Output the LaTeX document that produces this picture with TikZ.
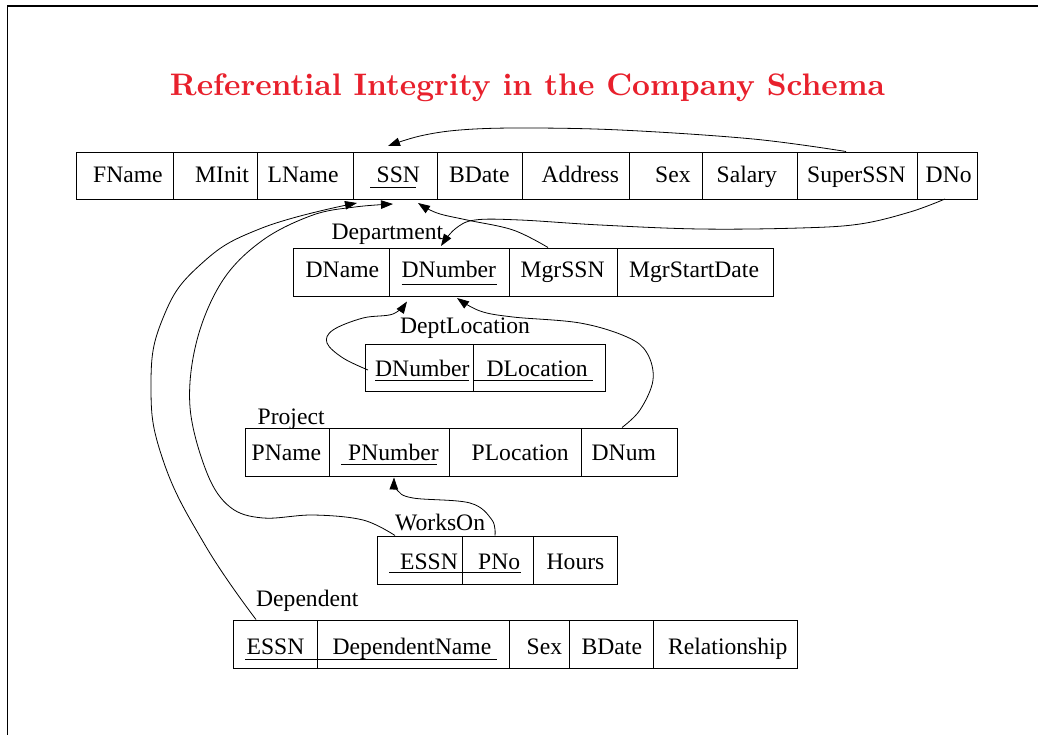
\documentclass[tikz,border=0pt]{standalone}
\usepackage{fontspec}
\setmainfont{Liberation Serif}
\newfontfamily\titlefont{Latin Modern Roman}
\usetikzlibrary{arrows.meta}
\definecolor{titlered}{RGB}{232,32,44}
\begin{document}
\begin{tikzpicture}[x=1pt,y=-1pt,
  cell/.style={draw, line width=0.8pt, inner sep=0pt, anchor=north west, minimum height=47.5pt},
  txt/.style={anchor=base west, inner sep=0pt, font=\fontsize{23.6}{28}\selectfont},
  uline/.style={line width=0.8pt},
  fk/.style={line width=0.8pt, -{Triangle[length=12pt,width=8.5pt]}},
  frame/.style={line width=1.4pt}
]
\useasboundingbox (0,0) rectangle (1038,735);
\draw[frame] (7.5,740) -- (7.5,6) -- (1045,6);

% title
\node[anchor=base, inner sep=0pt, text=titlered] (title) at (527.5,96)
  {\resizebox{715pt}{!}{\titlefont\bfseries Referential Integrity in the Company Schema}};

% ---------- Employee ----------
\node[cell, minimum width=97.3pt] (emp-fname) at (76,152) {};
\node[cell, minimum width=84pt]   (emp-minit) at (173.3,152) {};
\node[cell, minimum width=96pt]   (emp-lname) at (257.3,152) {};
\node[cell, minimum width=84pt]   (emp-ssn) at (353.3,152) {};
\node[cell, minimum width=84.4pt] (emp-bdate) at (437.3,152) {};
\node[cell, minimum width=107.6pt] (emp-address) at (521.7,152) {};
\node[cell, minimum width=72.4pt] (emp-sex) at (629.3,152) {};
\node[cell, minimum width=95.6pt] (emp-salary) at (701.7,152) {};
\node[cell, minimum width=120pt]  (emp-superssn) at (797.3,152) {};
\node[cell, minimum width=60pt]   (emp-dno) at (917.3,152) {};
\node[txt] (t-fname) at (93,182.5) {FName};
\node[txt] (t-minit) at (195,182.5) {MInit};
\node[txt] (t-lname) at (267.5,182.5) {LName};
\node[txt] (t-ssn) at (376.5,182.5) {SSN};
\node[txt] (t-bdate) at (449,182.5) {BDate};
\node[txt] (t-address) at (541.5,182.5) {Address};
\node[txt] (t-sex) at (655,182.5) {Sex};
\node[txt] (t-salary) at (716.5,182.5) {Salary};
\node[txt] (t-superssn) at (807,182.5) {SuperSSN};
\node[txt] (t-dno) at (925.5,182.5) {DNo};
\draw[uline] (370,187.7) -- (416,187.7);

% ---------- Department ----------
\node[txt] (l-dept) at (331.5,240) {Department};
\node[cell, minimum width=96.6pt] (dep-dname) at (292.7,248) {};
\node[cell, minimum width=120pt]  (dep-dnumber) at (389.3,248) {};
\node[cell, minimum width=108pt]  (dep-mgrssn) at (509.3,248) {};
\node[cell, minimum width=156pt]  (dep-mgrstart) at (617.3,248) {};
\node[txt] (t-dname) at (305.5,277) {DName};
\node[txt] (t-dnumber) at (401.5,277) {DNumber};
\node[txt] (t-mgrssn) at (520.5,277) {MgrSSN};
\node[txt] (t-mgrstart) at (629,277) {MgrStartDate};
\draw[uline] (401.7,284) -- (496.7,284);

% ---------- DeptLocation ----------
\node[txt] (l-dloc) at (400,333.3) {DeptLocation};
\node[cell, minimum width=108.3pt] (dl-dnumber) at (365,343.5) {};
\node[cell, minimum width=131.7pt] (dl-dlocation) at (473.3,343.5) {};
\node[txt] (t-dl-dnumber) at (375,376) {DNumber};
\node[txt] (t-dl-dlocation) at (486.5,376) {DLocation};
\draw[uline] (375,380.5) -- (469,380.5);
\draw[uline] (474,380.5) -- (593.3,380.5);

% ---------- Project ----------
\node[txt] (l-proj) at (257.5,424.3) {Project};
\node[cell, minimum width=84.3pt] (pr-pname) at (245,428) {};
\node[cell, minimum width=120pt]  (pr-pnumber) at (329.3,428) {};
\node[cell, minimum width=131.7pt] (pr-plocation) at (449.3,428) {};
\node[cell, minimum width=96pt]   (pr-dnum) at (581,428) {};
\node[txt] (t-pname) at (251.5,460) {PName};
\node[txt] (t-pnumber) at (348,460) {PNumber};
\node[txt] (t-plocation) at (471.5,460) {PLocation};
\node[txt] (t-dnum) at (591.5,460) {DNum};
\draw[uline] (341,464) -- (436.7,464);

% ---------- WorksOn ----------
\node[txt] (l-works) at (395,530) {WorksOn};
\node[cell, minimum width=84.4pt] (wo-essn) at (377.3,536) {};
\node[cell, minimum width=71pt]   (wo-pno) at (461.7,536) {};
\node[cell, minimum width=84pt]   (wo-hours) at (532.7,536) {};
\node[txt] (t-wo-essn) at (400,569) {ESSN};
\node[txt] (t-wo-pno) at (478,569) {PNo};
\node[txt] (t-wo-hours) at (546.5,569) {Hours};
\draw[uline] (389.3,572) -- (520.7,572);

% ---------- Dependent ----------
\node[txt] (l-depd) at (256,606.7) {Dependent};
\node[cell, minimum width=84.6pt] (dp-essn) at (232.7,620) {};
\node[cell, minimum width=192pt]  (dp-name) at (317.3,620) {};
\node[cell, minimum width=60pt]   (dp-sex) at (509.3,620) {};
\node[cell, minimum width=84pt]   (dp-bdate) at (569.3,620) {};
\node[cell, minimum width=144pt]  (dp-rel) at (653.3,620) {};
\node[txt] (t-dp-essn) at (246.5,654) {ESSN};
\node[txt] (t-dp-name) at (332.5,654) {DependentName};
\node[txt] (t-dp-sex) at (526.5,654) {Sex};
\node[txt] (t-dp-bdate) at (581.5,654) {BDate};
\node[txt] (t-dp-rel) at (668,654) {Relationship};
\draw[uline] (245,659.5) -- (496.7,659.5);

% ---------- connector end points ----------
\coordinate (s-superssn) at (846,151.5);
\coordinate (s-dno) at (945,199);
\coordinate (s-mgrssn) at (548,247.5);
\coordinate (s-wo-essn) at (395,535.5);
\coordinate (s-dp-essn) at (256,619.5);
\coordinate (s-dl-dnumber) at (368,370);
\coordinate (s-dnum) at (622,427.5);
\coordinate (s-pno) at (495,535.5);
\coordinate (e-ssn-top) at (388,146);
\coordinate (e-ssn-a) at (357,203);
\coordinate (e-ssn-b) at (393,204);
\coordinate (e-ssn-c) at (418,203);
\coordinate (e-dnumber-top) at (441,246);
\coordinate (e-dnumber-a) at (407,301.5);
\coordinate (e-dnumber-b) at (457,298);
\coordinate (e-pnumber) at (394,477.5);

% ---------- connectors ----------
\draw[fk] plot[smooth, tension=0.6] coordinates {(s-superssn) (753,139) (620,130) (520,128) (460,130) (420,136) (e-ssn-top)};
\draw[fk] plot[smooth, tension=0.6] coordinates {(s-dno) (910,212) (860,224) (800,228) (700,229) (600,225) (520,220) (475,220) (455,229) (e-dnumber-top)};
\draw[fk] plot[smooth, tension=0.6] coordinates {(s-mgrssn) (513,230) (467,220) (437,213) (e-ssn-c)};
\draw[fk] plot[smooth, tension=0.6] coordinates {(s-wo-essn) (363,520) (313,515) (263,518) (230,507) (207,473) (190,407) (197,340) (223,280) (263,240) (313,215) (355,207) (e-ssn-b)};
\draw[fk] plot[smooth, tension=0.75] coordinates {(s-dp-essn) (205,545) (163,460) (151,385) (163,318) (200,265) (262,228) (e-ssn-a)};
\draw[fk] plot[smooth, tension=0.6] coordinates {(s-dl-dnumber) (343,358) (327,343) (333,330) (363,318) (393,314) (e-dnumber-a)};
\draw[fk] plot[smooth, tension=0.6] coordinates {(s-dnum) (640,410) (653,380) (647,353) (627,337) (580,323) (513,317) (480,311) (e-dnumber-b)};
\draw[fk] plot[smooth, tension=0.6] coordinates {(s-pno) (492,520) (470,503) (413,498) (397,490) (e-pnumber)};
\end{tikzpicture}
\end{document}
